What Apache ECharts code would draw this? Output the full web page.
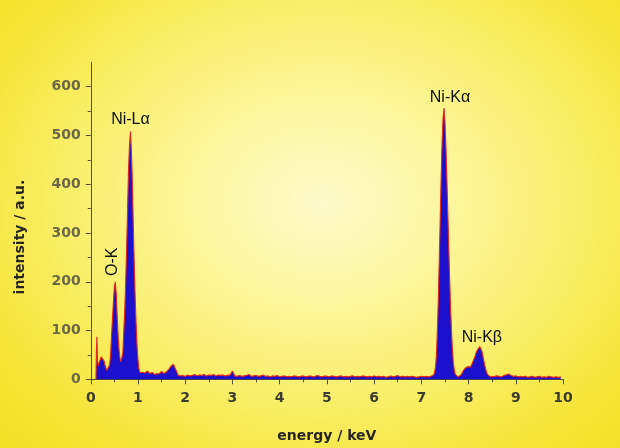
<!DOCTYPE html>
<html><head><meta charset="utf-8">
<script src="https://cdn.jsdelivr.net/npm/echarts@6/dist/echarts.min.js"></script>
<style>
html,body{margin:0;padding:0;}
#chart{width:620px;height:448px;background:radial-gradient(ellipse 72% 78% at 52% 45%, #fdfbcc 0%, #fcf6a0 28%, #f9ee68 58%, #f5e538 82%, #f2e026 100%);}
</style></head><body><div id="chart"></div>
<script>
// EDX spectrum: energy (keV) and intensity (a.u.)
const energy = [
0.11,0.12,0.13,0.14,0.16,0.18,0.20,0.22,0.24,0.26,0.28,0.30,0.32,0.34,0.36,0.38,0.40,0.42,0.44,0.46,0.48,0.50,
0.52,0.54,0.56,0.58,0.60,0.62,0.64,0.66,0.68,0.70,0.72,0.74,0.76,0.78,0.80,0.82,0.84,0.86,0.88,0.90,0.92,0.94,
0.96,0.98,1.00,1.02,1.04,1.06,1.08,1.10,
1.15,1.20,1.25,1.30,1.35,1.40,1.45,1.50,1.55,1.60,1.65,1.70,1.75,1.80,1.85,1.90,1.95,2.00,
2.05,2.10,2.15,2.20,2.25,2.30,2.35,2.40,2.45,2.50,2.55,2.60,2.65,2.70,2.75,2.80,2.85,2.90,2.95,3.00,
3.05,3.10,3.15,3.20,3.25,3.30,3.35,3.40,3.45,3.50,3.55,3.60,3.65,3.70,3.75,3.80,3.85,3.90,3.95,4.00,
4.05,4.10,4.15,4.20,4.25,4.30,4.35,4.40,4.45,4.50,4.55,4.60,4.65,4.70,4.75,4.80,4.85,4.90,4.95,5.00,
5.05,5.10,5.15,5.20,5.25,5.30,5.35,5.40,5.45,5.50,5.55,5.60,5.65,5.70,5.75,5.80,5.85,5.90,5.95,6.00,
6.05,6.10,6.15,6.20,6.25,6.30,6.35,6.40,6.45,6.50,6.55,6.60,6.65,6.70,6.75,6.80,6.85,6.90,6.95,7.00,
7.05,7.10,7.15,7.20,
7.22,7.24,7.26,7.28,7.30,7.32,7.34,7.36,7.38,7.40,7.42,7.44,7.46,7.48,7.50,7.52,7.54,7.56,7.58,7.60,
7.62,7.64,7.66,7.68,7.70,7.72,7.74,7.76,7.78,7.80,7.82,7.84,7.86,7.88,7.90,7.92,7.94,7.96,7.98,8.00,
8.02,8.04,8.06,8.08,8.10,8.12,8.14,8.16,8.18,8.20,8.22,8.24,8.26,8.28,8.30,8.32,8.34,8.36,8.38,8.40,
8.42,8.44,8.46,8.48,8.50,
8.55,8.60,8.65,8.70,8.75,8.80,8.85,8.90,8.95,9.00,9.05,9.10,9.15,9.20,9.25,9.30,9.35,9.40,9.45,9.50,
9.55,9.60,9.65,9.70,9.75,9.80,9.85,9.90,9.95
];
const intensity = [
0,60,87,40,28,32,40,46,50,44,38,30,24,18,16,20,30,50,90,125,160,190,
200,175,130,90,60,42,36,40,55,100,140,200,270,350,430,480,508,470,410,320,240,170,
115,70,40,22,14,13,10,14,
13,17,12,14,10,12,11,16,12,15,20,27,31,20,9,7,8,6,
9,7,8,10,7,9,8,10,7,9,8,10,7,9,8,9,7,8,9,17,
7,6,8,6,7,8,10,6,7,8,6,7,9,6,7,5,7,6,8,5,
6,7,5,6,5,7,6,5,6,7,5,6,7,5,6,8,6,5,7,6,
5,7,6,5,6,7,5,6,5,6,7,5,6,5,7,6,5,6,5,7,
5,6,5,6,4,5,7,5,6,8,5,6,5,6,5,6,5,4,5,6,
5,6,5,6,
6,7,9,14,25,50,100,165,245,330,415,485,535,556,530,480,415,345,275,205,
145,95,58,32,18,10,7,6,5,7,8,9,12,16,20,22,25,23,26,25,
23,25,29,33,38,43,48,55,58,62,66,67,64,58,50,40,30,22,15,10,
8,6,5,6,5,
6,7,6,5,8,9,11,8,6,7,5,6,5,6,4,5,6,4,5,6,
4,5,4,6,5,4,5,4,5
];
const xTicks = [0,1,2,3,4,5,6,7,8,9,10];
const yTicks = [0,100,200,300,400,500,600];
const yMinorTicks = [50,150,250,350,450,550];
const peakNames = ['O-K','Ni-L\u03b1','Ni-K\u03b1','Ni-K\u03b2'];
const peakEnergy = [0.52,0.84,7.48,8.24];
const peakIntensity = [200,508,556,67];

const spectrum = energy.map((e,i)=>[e,intensity[i]]);
const labelStyles = [
  {rotate:90, offset:[20,-3]},
  {rotate:0, offset:[0,-12]},
  {rotate:0, offset:[6,-11]},
  {rotate:0, offset:[2,-9]}
];
const peakData = peakNames.map((n,i)=>({
  value:[peakEnergy[i],peakIntensity[i]], name:n,
  label:{show:true, position:'inside', align:'center', verticalAlign:'middle',
    rotate:labelStyles[i].rotate, offset:labelStyles[i].offset, formatter:n,
    fontFamily:'Liberation Sans', fontSize:16, color:'#0e0e0e', opacity:1,
    textBorderWidth:0}
}));

const axisColor = '#4f4d36';
const chart = echarts.init(document.getElementById('chart'), null, {renderer:'canvas'});
chart.setOption({
  backgroundColor:'transparent',
  animation:false,
  grid:{left:90.75, right:57, top:62.3, bottom:68.7, containLabel:false, outerBoundsMode:'none'},
  xAxis:{type:'value', min:0, max:10, interval:1,
    axisLine:{show:true, lineStyle:{color:axisColor, width:1}},
    axisTick:{show:true, length:5, lineStyle:{color:axisColor}},
    minorTick:{show:true, splitNumber:2, length:3, lineStyle:{color:axisColor}},
    splitLine:{show:false},
    axisLabel:{margin:12, fontFamily:'DejaVu Sans', fontWeight:'bold', fontSize:14, color:'#3c3b30',
      customValues:xTicks},
    name:'energy / keV', nameLocation:'middle', nameGap:50,
    nameTextStyle:{fontFamily:'DejaVu Sans', fontWeight:'bold', fontSize:14, color:'#262520'}
  },
  yAxis:[{type:'value', min:0, max:650, interval:50,
    axisLine:{show:true, lineStyle:{color:axisColor, width:1}},
    axisTick:{show:true, length:5, lineStyle:{color:axisColor}, customValues:yTicks},
    splitLine:{show:false},
    axisLabel:{margin:10, fontFamily:'DejaVu Sans', fontWeight:'bold', fontSize:14, color:'#6b6848',
      customValues:yTicks}
  },{type:'value', min:0, max:650, interval:50, position:'left',
    axisLine:{show:false},
    axisTick:{show:true, length:3, lineStyle:{color:axisColor}, customValues:yMinorTicks},
    splitLine:{show:false}, axisLabel:{show:false}
  }],
  graphic:[{type:'text', x:20, y:237, rotation:Math.PI/2,
    style:{text:'intensity / a.u.', fontFamily:'DejaVu Sans', fontWeight:'bold', fontSize:14,
      fill:'#262520', align:'center', verticalAlign:'middle'}}],
  series:[{
    type:'line', data:spectrum, showSymbol:false, symbol:'none', smooth:false,
    lineStyle:{color:'#e3281c', width:1.1},
    areaStyle:{color:'#1c10cc', opacity:1},
    z:2
  },{
    type:'scatter', data:peakData, symbolSize:0, itemStyle:{color:'#111111', opacity:1}, z:5, silent:true,
    emphasis:{disabled:true}
  }]
});
</script></body></html>
